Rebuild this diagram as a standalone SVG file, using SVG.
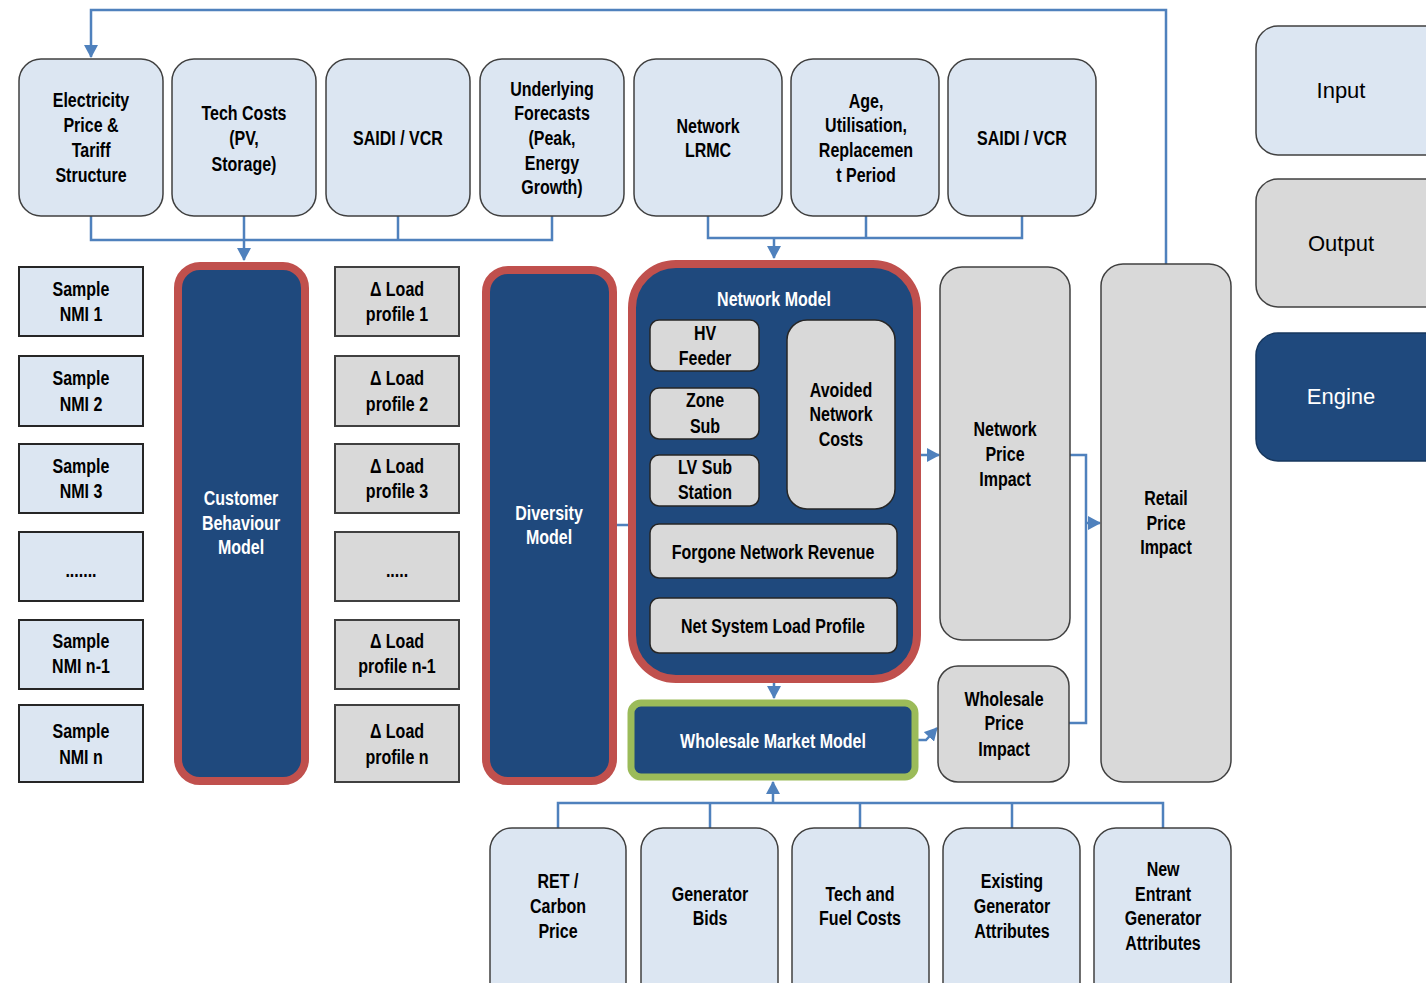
<svg xmlns="http://www.w3.org/2000/svg" width="1426" height="983" viewBox="0 0 1426 983">
<style>
.in{fill:#DCE6F2;stroke:#404040;stroke-width:1.5}
.out{fill:#D9D9D9;stroke:#404040;stroke-width:1.5}
.sq{fill:#DCE6F2;stroke:#262626;stroke-width:2}
.sqg{fill:#D9D9D9;stroke:#404040;stroke-width:2}
.eng{fill:#1F497D;stroke:#C0504D;stroke-width:8}
.wmm{fill:#1F497D;stroke:#9BBB59;stroke-width:7}
.sub{fill:#D9D9D9;stroke:#262626;stroke-width:1.5}
.leg{fill:#1F497D;stroke:#17375E;stroke-width:1.5}
text{font-family:"Liberation Sans",Arial,sans-serif;font-weight:bold;font-size:20px;text-anchor:middle;fill:#000;transform-box:fill-box;transform-origin:center;transform:scaleX(0.8)}
.w{fill:#fff}
text.lg{font-weight:normal;font-size:22px;transform:none}
.c{fill:none;stroke:#4F81BD;stroke-width:2.5}
</style>
<defs>
<marker id="ah" markerUnits="userSpaceOnUse" markerWidth="14" markerHeight="14" refX="12" refY="7" orient="auto">
<path d="M0,0 L13,7 L0,14 Z" fill="#4F81BD"/>
</marker>
</defs>

<g id="connectors">
<path class="c" d="M1166,264 V10 H91 V57" marker-end="url(#ah)"/>
<path class="c" d="M91,216 V240 H552 V216 M244,216 V240 M398,216 V240"/>
<path class="c" d="M244,240 V260" marker-end="url(#ah)"/>
<path class="c" d="M708,216 V238 H1022 V216 M866,216 V238"/>
<path class="c" d="M774,238 V258" marker-end="url(#ah)"/>
<path class="c" d="M616,525 H633 M633,345 V625"/>
<path class="c" d="M633,345 H649" marker-end="url(#ah)"/>
<path class="c" d="M633,412 H649" marker-end="url(#ah)"/>
<path class="c" d="M633,480 H649" marker-end="url(#ah)"/>
<path class="c" d="M633,550 H649" marker-end="url(#ah)"/>
<path class="c" d="M633,625 H649" marker-end="url(#ah)"/>
<path class="c" d="M759,345 H773 V480 H759 M759,412 H773"/>
<path class="c" d="M773,412 H786" marker-end="url(#ah)"/>
<path class="c" d="M895,413 H917 V550 H897"/>
<path class="c" d="M917,455 H939" marker-end="url(#ah)"/>
<path class="c" d="M774,653 V698" marker-end="url(#ah)"/>
<path class="c" d="M918,740 H926 L937,728" marker-end="url(#ah)"/>
<path class="c" d="M1070,455 H1086 V723 H1069"/>
<path class="c" d="M1086,523 H1100" marker-end="url(#ah)"/>
<path class="c" d="M558,828 V803 H1163 V828 M710,828 V803 M860,828 V803 M1012,828 V803"/>
<path class="c" d="M773,803 V782" marker-end="url(#ah)"/>
</g>

<g id="n-elec"><rect class="in" x="19" y="59" width="144" height="157" rx="22"/><text x="91" y="107">Electricity</text><text x="91" y="132">Price &amp;</text><text x="91" y="157">Tariff</text><text x="91" y="182">Structure</text></g>
<g id="n-tech"><rect class="in" x="172" y="59" width="144" height="157" rx="22"/><text x="244" y="120">Tech Costs</text><text x="244" y="145">(PV,</text><text x="244" y="171">Storage)</text></g>
<g id="n-saidi1"><rect class="in" x="326" y="59" width="144" height="157" rx="22"/><text x="398" y="145">SAIDI / VCR</text></g>
<g id="n-under"><rect class="in" x="480" y="59" width="144" height="157" rx="22"/><text x="552" y="96">Underlying</text><text x="552" y="120">Forecasts</text><text x="552" y="145">(Peak,</text><text x="552" y="170">Energy</text><text x="552" y="194">Growth)</text></g>
<g id="n-lrmc"><rect class="in" x="634" y="59" width="148" height="157" rx="22"/><text x="708" y="133">Network</text><text x="708" y="157">LRMC</text></g>
<g id="n-age"><rect class="in" x="791" y="59" width="148" height="157" rx="22"/><text x="866" y="108">Age,</text><text x="866" y="132">Utilisation,</text><text x="866" y="157">Replacemen</text><text x="866" y="182">t Period</text></g>
<g id="n-saidi2"><rect class="in" x="948" y="59" width="148" height="157" rx="22"/><text x="1022" y="145">SAIDI / VCR</text></g>

<g id="n-nmi1"><rect class="sq" x="19" y="267" width="124" height="69"/><text x="81" y="296">Sample</text><text x="81" y="321">NMI 1</text></g>
<g id="n-nmi2"><rect class="sq" x="19" y="356" width="124" height="70"/><text x="81" y="385">Sample</text><text x="81" y="411">NMI 2</text></g>
<g id="n-nmi3"><rect class="sq" x="19" y="444" width="124" height="69"/><text x="81" y="473">Sample</text><text x="81" y="498">NMI 3</text></g>
<g id="n-nmid"><rect class="sq" x="19" y="532" width="124" height="69"/><text x="81" y="577">.......</text></g>
<g id="n-nmin1"><rect class="sq" x="19" y="620" width="124" height="69"/><text x="81" y="648">Sample</text><text x="81" y="673">NMI n-1</text></g>
<g id="n-nmin"><rect class="sq" x="19" y="705" width="124" height="77"/><text x="81" y="738">Sample</text><text x="81" y="764">NMI n</text></g>

<g id="n-cbm"><rect class="eng" x="178" y="266" width="127" height="515" rx="22"/><text class="w" x="241" y="505">Customer</text><text class="w" x="241" y="530">Behaviour</text><text class="w" x="241" y="554">Model</text></g>

<g id="n-lp1"><rect class="sqg" x="335" y="267" width="124" height="69"/><text x="397" y="296">Δ Load</text><text x="397" y="321">profile 1</text></g>
<g id="n-lp2"><rect class="sqg" x="335" y="356" width="124" height="70"/><text x="397" y="385">Δ Load</text><text x="397" y="411">profile 2</text></g>
<g id="n-lp3"><rect class="sqg" x="335" y="444" width="124" height="69"/><text x="397" y="473">Δ Load</text><text x="397" y="498">profile 3</text></g>
<g id="n-lpd"><rect class="sqg" x="335" y="532" width="124" height="69"/><text x="397" y="577">.....</text></g>
<g id="n-lpn1"><rect class="sqg" x="335" y="620" width="124" height="69"/><text x="397" y="648">Δ Load</text><text x="397" y="673">profile n-1</text></g>
<g id="n-lpn"><rect class="sqg" x="335" y="705" width="124" height="77"/><text x="397" y="738">Δ Load</text><text x="397" y="764">profile n</text></g>

<g id="n-div"><rect class="eng" x="486" y="270" width="127" height="511" rx="22"/><text class="w" x="549" y="520">Diversity</text><text class="w" x="549" y="544">Model</text></g>

<g id="n-netmodel"><rect class="eng" x="632" y="264" width="285" height="415" rx="44"/><text class="w" x="774" y="306">Network Model</text></g>
<g id="n-hv"><rect class="sub" x="650" y="320" width="109" height="51" rx="9"/><text x="705" y="340">HV</text><text x="705" y="365">Feeder</text></g>
<g id="n-zone"><rect class="sub" x="650" y="388" width="109" height="51" rx="9"/><text x="705" y="407">Zone</text><text x="705" y="433">Sub</text></g>
<g id="n-lv"><rect class="sub" x="650" y="455" width="109" height="51" rx="9"/><text x="705" y="474">LV Sub</text><text x="705" y="499">Station</text></g>
<g id="n-avoid"><rect class="sub" x="787" y="320" width="108" height="189" rx="20"/><text x="841" y="397">Avoided</text><text x="841" y="421">Network</text><text x="841" y="446">Costs</text></g>
<g id="n-forg"><rect class="sub" x="650" y="524" width="247" height="54" rx="9"/><text x="773" y="559">Forgone Network Revenue</text></g>
<g id="n-nslp"><rect class="sub" x="650" y="598" width="247" height="55" rx="9"/><text x="773" y="633">Net System Load Profile</text></g>

<g id="n-wmm"><rect class="wmm" x="631" y="703" width="284" height="74" rx="10"/><text class="w" x="773" y="748">Wholesale Market Model</text></g>

<g id="n-npi"><rect class="out" x="940" y="267" width="130" height="373" rx="22"/><text x="1005" y="436">Network</text><text x="1005" y="461">Price</text><text x="1005" y="486">Impact</text></g>
<g id="n-wpi"><rect class="out" x="938" y="666" width="131" height="116" rx="20"/><text x="1004" y="706">Wholesale</text><text x="1004" y="730">Price</text><text x="1004" y="756">Impact</text></g>
<g id="n-rpi"><rect class="out" x="1101" y="264" width="130" height="518" rx="22"/><text x="1166" y="505">Retail</text><text x="1166" y="530">Price</text><text x="1166" y="554">Impact</text></g>

<g id="n-ret"><rect class="in" x="490" y="828" width="136" height="180" rx="22"/><text x="558" y="888">RET /</text><text x="558" y="913">Carbon</text><text x="558" y="938">Price</text></g>
<g id="n-bids"><rect class="in" x="641" y="828" width="137" height="180" rx="22"/><text x="710" y="901">Generator</text><text x="710" y="925">Bids</text></g>
<g id="n-fuel"><rect class="in" x="792" y="828" width="137" height="180" rx="22"/><text x="860" y="901">Tech and</text><text x="860" y="925">Fuel Costs</text></g>
<g id="n-exist"><rect class="in" x="943" y="828" width="137" height="180" rx="22"/><text x="1012" y="888">Existing</text><text x="1012" y="913">Generator</text><text x="1012" y="938">Attributes</text></g>
<g id="n-new"><rect class="in" x="1094" y="828" width="137" height="180" rx="22"/><text x="1163" y="876">New</text><text x="1163" y="901">Entrant</text><text x="1163" y="925">Generator</text><text x="1163" y="950">Attributes</text></g>

<g id="legend-input"><rect class="in" x="1256" y="26" width="190" height="129" rx="22"/><text class="lg" x="1341" y="98">Input</text></g>
<g id="legend-output"><rect class="out" x="1256" y="179" width="190" height="128" rx="22"/><text class="lg" x="1341" y="251">Output</text></g>
<g id="legend-engine"><rect class="leg" x="1256" y="333" width="190" height="128" rx="22"/><text class="lg w" x="1341" y="404">Engine</text></g>
</svg>
